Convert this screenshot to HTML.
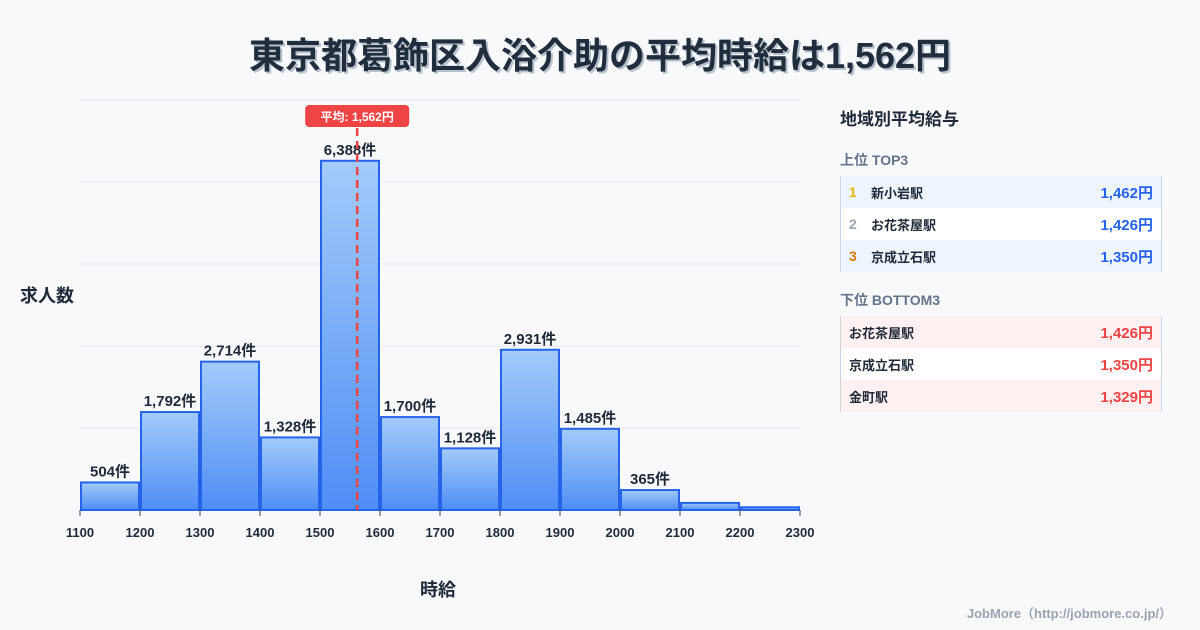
<!DOCTYPE html>
<html><head><meta charset="utf-8">
<style>
body{margin:0;width:1200px;height:630px;background:#f8f9fb;font-family:"Liberation Sans","Noto Sans CJK JP",sans-serif;position:relative;overflow:hidden;color:#1f2937}
.title{position:absolute;left:0;width:1200px;top:27px;text-align:center;font-size:36px;font-weight:bold;color:#1f2d3d;text-shadow:2px 2px 0 #b8c0cc}
.side{position:absolute;left:840px;width:320px}
.h{font-size:17px;font-weight:bold;color:#1f2937}
.sub{font-size:14px;font-weight:bold;color:#64748b}
.tbl{border-left:1px solid #cbd5e1;border-right:1px solid #cbd5e1}
.row{height:32px;display:flex;align-items:center;font-size:13px;font-weight:bold;padding:0 8px}
.row .v{margin-left:auto;font-size:15px}
.rk{width:22px;font-size:14px}
</style></head><body>
<div class="title">東京都葛飾区入浴介助の平均時給は1,562円</div>
<svg id="chart" width="1200" height="630" style="position:absolute;left:0;top:0">
<defs><linearGradient id="g" x1="0" y1="0" x2="0" y2="1"><stop offset="0" stop-color="#a3cbfa"/><stop offset="1" stop-color="#4f8ef5"/></linearGradient></defs>
</svg>
<div style="position:absolute;left:20px;top:282px;font-size:18px;font-weight:bold">求人数</div>
<div style="position:absolute;left:420px;top:576px;font-size:18px;font-weight:bold">時給</div>
<div class="side h" style="top:105px">地域別平均給与</div>
<div class="side sub" style="top:150px">上位 TOP3</div>
<div class="side tbl" style="top:176px">
<div class="row" style="background:#eef5ff"><span class="rk" style="color:#eab308">1</span><span>新小岩駅</span><span class="v" style="color:#2563eb">1,462円</span></div>
<div class="row" style="background:#fff"><span class="rk" style="color:#9ca3af">2</span><span>お花茶屋駅</span><span class="v" style="color:#2563eb">1,426円</span></div>
<div class="row" style="background:#eef5ff"><span class="rk" style="color:#d97706">3</span><span>京成立石駅</span><span class="v" style="color:#2563eb">1,350円</span></div>
</div>
<div class="side sub" style="top:290px">下位 BOTTOM3</div>
<div class="side tbl" style="top:316px">
<div class="row" style="background:#fff1f1"><span>お花茶屋駅</span><span class="v" style="color:#ef4444">1,426円</span></div>
<div class="row" style="background:#fff"><span>京成立石駅</span><span class="v" style="color:#ef4444">1,350円</span></div>
<div class="row" style="background:#fff1f1"><span>金町駅</span><span class="v" style="color:#ef4444">1,329円</span></div>
</div>
<div style="position:absolute;right:28px;top:603px;font-size:13px;font-weight:bold;color:#9ca3af">JobMore（http://jobmore.co.jp/）</div>
<script>
const binStarts=[1100,1200,1300,1400,1500,1600,1700,1800,1900,2000,2100,2200];
const counts=[504,1792,2714,1328,6388,1700,1128,2931,1485,365,130,50];
const xTicks=[1100,1200,1300,1400,1500,1600,1700,1800,1900,2000,2100,2200,2300];
const yGrid=[0,1500,3000,4500,6000,7500];
const avgWage=1562;
const svg=document.getElementById('chart');
const NS='http://www.w3.org/2000/svg';
const X=v=>80+(v-1100)*0.6;
const Y=v=>510-v*(410/7500);
function mk(t,a,txt){const e=document.createElementNS(NS,t);for(const k in a)e.setAttribute(k,a[k]);if(txt!==undefined)e.textContent=txt;svg.appendChild(e);return e;}
yGrid.forEach(v=>{const l=mk('line',{x1:80,x2:800,y1:Y(v),y2:Y(v),stroke:'#e5e7eb','stroke-width':1});

});
binStarts.forEach((b,i)=>{const x0=X(b)+1,x1=X(b+100)-1,y=Y(counts[i]);
const r=mk('rect',{x:x0,y:y,width:x1-x0,height:510-y,fill:'url(#g)',stroke:'#2563eb','stroke-width':2});


if(counts[i]>=300){const t=mk('text',{x:(x0+x1)/2,y:y-6,'text-anchor':'middle','font-size':15,'font-weight':'bold',fill:'#1f2937'},counts[i].toLocaleString('en-US')+'件');

}});
xTicks.forEach(v=>{const l=mk('line',{x1:X(v),x2:X(v),y1:510,y2:516,stroke:'#374151','stroke-width':1});


const t=mk('text',{x:X(v),y:537,'text-anchor':'middle','font-size':13,'font-weight':'bold',fill:'#1f2937'},String(v));

});
const ax=X(avgWage);
const al=mk('line',{x1:ax,x2:ax,y1:128,y2:510,stroke:'#ef4444','stroke-width':2.5,'stroke-dasharray':'8,5'});


const ab=mk('rect',{x:ax-52,y:105,width:104,height:22,rx:4,fill:'#ef4444'});


const at=mk('text',{x:ax,y:121,'text-anchor':'middle','font-size':12,'font-weight':'bold',fill:'#fff'},'平均: '+avgWage.toLocaleString('en-US')+'円');


</script>
</body></html>
